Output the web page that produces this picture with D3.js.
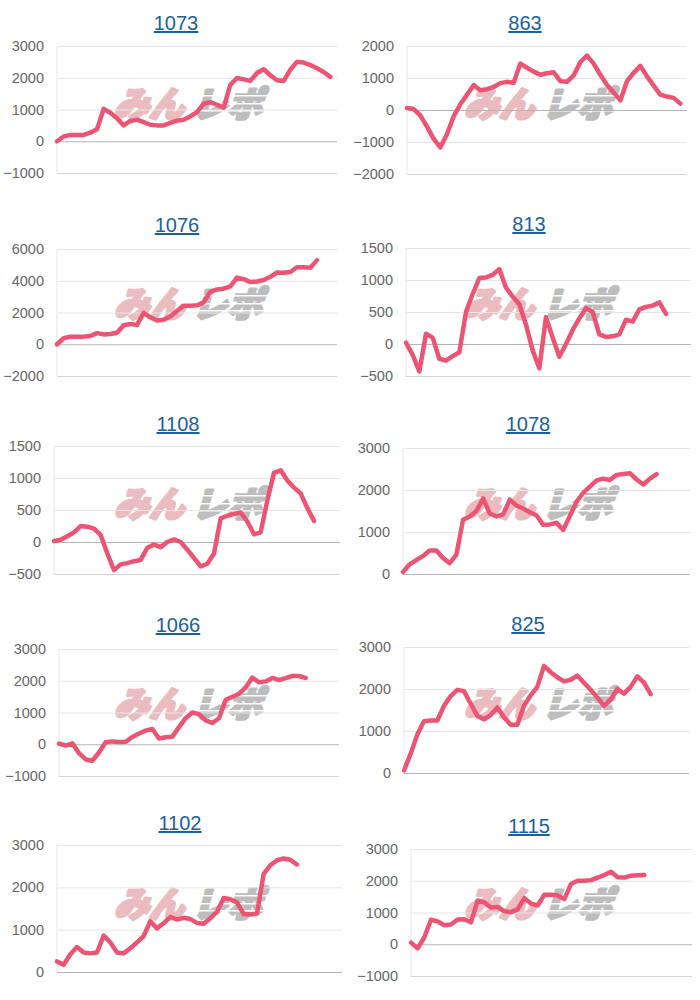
<!DOCTYPE html>
<html>
<head>
<meta charset="utf-8">
<script src="https://cdn.jsdelivr.net/npm/d3@7"></script>
<style>
  body { margin: 0; background: #fff; }
  svg { display: block; font-family: Arial, "Liberation Sans", sans-serif; }
</style>
</head>
<body>
<script>
// titles of the ten small charts, left to right, top to bottom
const titles = ["1073", "863", "1076", "813", "1108", "1078", "1066", "825", "1102", "1115"]

// y tick labels per chart
const yTicks = [
  [-1000, 0, 1000, 2000, 3000],
  [-2000, -1000, 0, 1000, 2000],
  [-2000, 0, 2000, 4000, 6000],
  [-500, 0, 500, 1000, 1500],
  [-500, 0, 500, 1000, 1500],
  [0, 1000, 2000, 3000],
  [-1000, 0, 1000, 2000, 3000],
  [0, 1000, 2000, 3000],
  [0, 1000, 2000, 3000],
  [-1000, 0, 1000, 2000, 3000]
]

// series values
const s1073 = [0, 150, 200, 200, 200, 270, 380, 1020, 900, 720, 500, 640, 680, 600, 520, 500, 500, 580, 650, 680,
  780, 920, 1180, 1230, 1150, 1060, 1780, 1990, 1950, 1900, 2150, 2270, 2080, 1920, 1900, 2250, 2500, 2480, 2400, 2300, 2180, 2030]
const s863 = [60, 30, -170, -520, -900, -1170, -750, -200, 180, 480, 780, 620, 650, 720, 840, 880, 850, 1450, 1320, 1200,
  1100, 1150, 1180, 900, 880, 1080, 1500, 1700, 1450, 1100, 780, 550, 300, 900, 1160, 1380, 1050, 760, 480, 420, 380, 200]
const s1076 = [0, 380, 480, 470, 480, 520, 700, 620, 650, 720, 1200, 1280, 1220, 1980, 1700, 1500, 1550, 1750, 2100, 2430,
  2430, 2450, 2650, 3300, 3450, 3500, 3650, 4200, 4100, 3920, 3950, 4050, 4250, 4520, 4500, 4550, 4850, 4850, 4820, 5300]
const s813 = [20, -170, -430, 160, 100, -230, -260, -190, -130, 500, 780, 1030, 1040, 1080, 1170, 880, 740, 620, 300, -100,
  -380, 420, 100, -200, 0, 220, 400, 560, 500, 150, 110, 120, 150, 380, 350, 540, 580, 600, 650, 470]
const s1108 = [15, 35, 90, 150, 250, 240, 210, 110, -180, -440, -350, -330, -300, -280, -90, -40, -80, 0, 40, 0,
  -120, -250, -380, -340, -180, 370, 410, 440, 460, 320, 120, 150, 650, 1080, 1120, 960, 850, 760, 530, 330]
const s1078 = [50, 230, 330, 430, 560, 560, 380, 260, 460, 1290, 1370, 1500, 1800, 1440, 1370, 1420, 1770, 1630, 1560, 1470,
  1400, 1170, 1180, 1220, 1050, 1380, 1720, 1930, 2080, 2230, 2270, 2240, 2360, 2380, 2400, 2250, 2130, 2270, 2380]
const s1066 = [20, -40, 30, -280, -480, -520, -260, 60, 90, 70, 80, 230, 340, 430, 480, 180, 220, 240, 540, 820,
  1000, 950, 750, 670, 820, 1400, 1490, 1590, 1790, 2100, 1950, 1980, 2090, 2020, 2080, 2150, 2150, 2090]
const s825 = [60, 460, 920, 1230, 1250, 1250, 1600, 1830, 1980, 1950, 1650, 1360, 1280, 1380, 1560, 1330, 1150, 1150, 1600, 1850,
  2050, 2550, 2400, 2280, 2180, 2220, 2320, 2150, 1980, 1800, 1600, 1750, 2000, 1890, 2050, 2300, 2150, 1880]
const s1102 = [250, 170, 420, 590, 460, 440, 460, 860, 700, 460, 440, 560, 700, 850, 1200, 1030, 1150, 1300, 1240, 1280,
  1250, 1160, 1140, 1270, 1420, 1750, 1720, 1640, 1370, 1360, 1380, 2320, 2520, 2640, 2680, 2650, 2540]
const s1115 = [50, -130, 220, 770, 720, 600, 620, 780, 790, 690, 1380, 1320, 1160, 1170, 1040, 1010, 1100, 1450, 1280, 1220,
  1560, 1560, 1540, 1420, 1900, 2000, 2000, 2020, 2100, 2180, 2280, 2110, 2100, 2160, 2170, 2180]

const series = [s1073, s863, s1076, s813, s1108, s1078, s1066, s825, s1102, s1115]

// layout of each panel (page pixels)
const panels = [
  {left: 57, right: 337, top: 46, bottom: 173, tx: 176, ty: 30, slots: 42},
  {left: 407, right: 687, top: 46, bottom: 174, tx: 525, ty: 30, slots: 42},
  {left: 57, right: 337, top: 249, bottom: 376, tx: 177, ty: 232, slots: 42},
  {left: 406, right: 691, top: 248, bottom: 376, tx: 529, ty: 231, slots: 42.75},
  {left: 54, right: 340, top: 446, bottom: 574, tx: 178, ty: 431, slots: 42.9},
  {left: 403, right: 690, top: 448, bottom: 574, tx: 528, ty: 431, slots: 43},
  {left: 59, right: 339, top: 649, bottom: 776, tx: 178, ty: 632, slots: 42},
  {left: 404, right: 689, top: 647, bottom: 773, tx: 528, ty: 631, slots: 42.75},
  {left: 57, right: 342, top: 845, bottom: 972, tx: 180, ty: 830, slots: 42.75},
  {left: 411, right: 692, top: 849, bottom: 976, tx: 529, ty: 833, slots: 42.15}
]

const lineColor = "#eb5472"

const svg = d3.select("body").append("svg")
  .attr("width", 700)
  .attr("height", 1000)

panels.forEach((p, i) => {
  const ticks = yTicks[i]
  const data = series[i]
  const g = svg.append("g")

  const x = d3.scaleLinear().domain([0, p.slots]).range([p.left, p.right])
  const y = d3.scaleLinear().domain([ticks[0], ticks[ticks.length - 1]]).range([p.bottom, p.top])

  // watermark (drawn first so grid lines sit on top of it)
  const cx = i % 2 === 0 ? 0 : 350
  const rowTop = Math.floor(i / 2) * 200
  const wm = g.append("g")
    .attr("transform", `translate(${cx + 114},${rowTop + 117}) skewX(-16)`)
    .attr("font-family", "'Noto Sans CJK JP', sans-serif")
    .attr("font-weight", 900)
    .attr("font-size", "35px")
    .attr("stroke-width", 3)
    .attr("stroke-linejoin", "round")
  wm.append("text").attr("x", 0).attr("y", 0)
    .attr("fill", "#ebbcbf").attr("stroke", "#ebbcbf").text("みん")
  wm.append("text").attr("x", 78).attr("y", 0)
    .attr("fill", "#bdbdbd").attr("stroke", "#bdbdbd").text("レポ")
  ;[-22, -14, -7].forEach(dy => {
    wm.append("rect").attr("x", 74).attr("y", dy).attr("width", 90).attr("height", 1.5).attr("fill", "#fff")
  })

  // y axis with grid lines
  const axis = g.append("g")
    .attr("transform", `translate(${p.left},0)`)
    .call(d3.axisLeft(y).tickValues(ticks).tickSize(-(p.right - p.left)).tickPadding(13).tickFormat(d3.format("d")))
  axis.select(".domain").remove()
  axis.selectAll(".tick line")
    .attr("stroke", d => d === 0 ? "#b4b4b4" : (d === ticks[0] ? "#d4d4d4" : "#e6e6e6"))
  axis.selectAll(".tick text")
    .attr("fill", "#666")
    .attr("font-size", "14.5px")
    .attr("font-family", "Arial, 'Liberation Sans', sans-serif")

  g.append("line")
    .attr("x1", p.left).attr("x2", p.left)
    .attr("y1", p.top).attr("y2", p.bottom)
    .attr("stroke", "#e6e6e6")

  // line
  const line = d3.line()
    .x((d, k) => x(k))
    .y(d => y(d))
  g.append("path")
    .datum(data)
    .attr("d", line)
    .attr("fill", "none")
    .attr("stroke", lineColor)
    .attr("stroke-width", 4.5)
    .attr("stroke-linejoin", "round")
    .attr("stroke-linecap", "round")

  // title
  g.append("text")
    .attr("x", p.tx)
    .attr("y", p.ty)
    .attr("text-anchor", "middle")
    .attr("font-size", "20px")
    .attr("fill", "#1a5f9e")
    .attr("text-decoration", "underline")
    .text(titles[i])
})
</script>
</body>
</html>
